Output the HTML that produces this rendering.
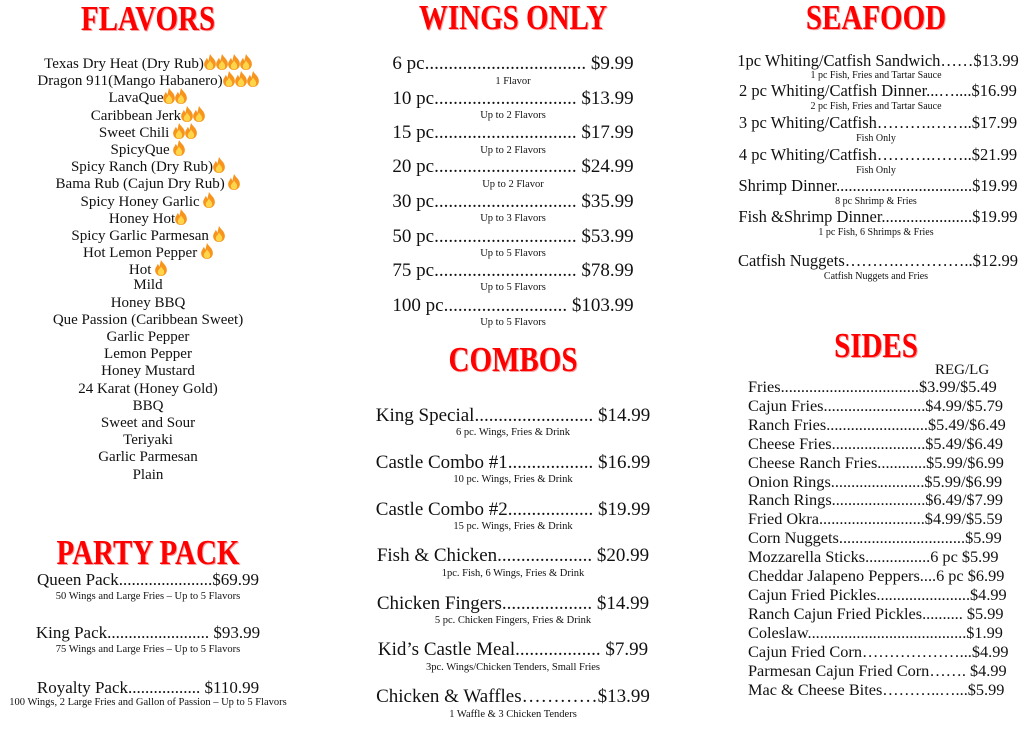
<!DOCTYPE html>
<html><head><meta charset="utf-8"><style>
*{margin:0;padding:0;box-sizing:border-box}
body{width:1024px;height:743px;background:#fff;position:relative;overflow:hidden;font-family:"Liberation Serif",serif;color:#111}
.h{position:absolute;width:400px;text-align:center;color:#f00;font-weight:bold;text-transform:uppercase;font-size:29px;line-height:36px;text-shadow:1px 1px 0 #f8a0a0;transform:scaleY(1.2)}
.c{position:absolute;width:500px;text-align:center;white-space:nowrap}
.m{font-size:19px;line-height:20px}
.s{font-size:10.5px;line-height:12px}
.r{font-size:16.5px;line-height:18px}
.rs{font-size:10px;line-height:11px}
.fl{position:absolute;left:-102px;width:500px;top:54px;text-align:center;font-size:15px;line-height:17.2px}
.fl div{height:17.2px;white-space:nowrap}
.pp{font-size:17px;line-height:18px}
.side{position:absolute;left:748px;top:378px;font-size:16.3px;line-height:18.9px;white-space:nowrap}
svg.f{width:12px;height:16px;vertical-align:-2px}
</style></head><body>
<svg width="0" height="0" style="position:absolute"><defs><symbol id="fl" viewBox="0 0 11 15"><path d="M5.5 0C7 3 11 5 11 9.5 11 12.8 8.5 15 5.5 15S0 12.8 0 9.5C0 7 2 5.5 2.5 3.5 3.5 5 3.8 6 4 6.5 4.5 4 5 2 5.5 0Z" fill="#f7941d"/><path d="M5.5 6C6.5 8 8.5 9 8.5 11.5 8.5 13.5 7 14.5 5.5 14.5S2.5 13.5 2.5 11.5C2.5 9.5 4.5 8.5 5.5 6Z" fill="#ffd54a"/></symbol></defs></svg>

<div class="h" style="left:-52px;top:1px">Flavors</div>
<div class="fl">
<div>Texas Dry Heat (Dry Rub)<svg class="f"><use href="#fl"/></svg><svg class="f"><use href="#fl"/></svg><svg class="f"><use href="#fl"/></svg><svg class="f"><use href="#fl"/></svg></div>
<div>Dragon 911(Mango Habanero)<svg class="f"><use href="#fl"/></svg><svg class="f"><use href="#fl"/></svg><svg class="f"><use href="#fl"/></svg></div>
<div>LavaQue<svg class="f"><use href="#fl"/></svg><svg class="f"><use href="#fl"/></svg></div>
<div>Caribbean Jerk<svg class="f"><use href="#fl"/></svg><svg class="f"><use href="#fl"/></svg></div>
<div>Sweet Chili <svg class="f"><use href="#fl"/></svg><svg class="f"><use href="#fl"/></svg></div>
<div>SpicyQue <svg class="f"><use href="#fl"/></svg></div>
<div>Spicy Ranch (Dry Rub)<svg class="f"><use href="#fl"/></svg></div>
<div>Bama Rub (Cajun Dry Rub) <svg class="f"><use href="#fl"/></svg></div>
<div>Spicy Honey Garlic <svg class="f"><use href="#fl"/></svg></div>
<div>Honey Hot<svg class="f"><use href="#fl"/></svg></div>
<div>Spicy Garlic Parmesan <svg class="f"><use href="#fl"/></svg></div>
<div>Hot Lemon Pepper <svg class="f"><use href="#fl"/></svg></div>
<div>Hot <svg class="f"><use href="#fl"/></svg></div>
<div>Mild</div><div>Honey BBQ</div><div>Que Passion (Caribbean Sweet)</div><div>Garlic Pepper</div><div>Lemon Pepper</div><div>Honey Mustard</div><div>24 Karat (Honey Gold)</div><div>BBQ</div><div>Sweet and Sour</div><div>Teriyaki</div><div>Garlic Parmesan</div><div>Plain</div>
</div>

<div class="h" style="left:-52px;top:535px">Party Pack</div>
<div class="c pp" style="left:-102px;top:571px">Queen Pack......................$69.99</div>
<div class="c s" style="left:-102px;top:591px">50 Wings and Large Fries – Up to 5 Flavors</div>
<div class="c pp" style="left:-102px;top:624px">King Pack........................ $93.99</div>
<div class="c s" style="left:-102px;top:644px">75 Wings and Large Fries – Up to 5 Flavors</div>
<div class="c pp" style="left:-102px;top:679px">Royalty Pack................. $110.99</div>
<div class="c s" style="left:-102px;top:697px">100 Wings, 2 Large Fries and Gallon of Passion – Up to 5 Flavors</div>

<div class="h" style="left:313px;top:0px">Wings Only</div>
<div class="c m" style="left:263px;top:54px">6 pc.................................. $9.99</div>
<div class="c s" style="left:263px;top:76px">1 Flavor</div>
<div class="c m" style="left:263px;top:89px">10 pc.............................. $13.99</div>
<div class="c s" style="left:263px;top:110px">Up to 2 Flavors</div>
<div class="c m" style="left:263px;top:123px">15 pc.............................. $17.99</div>
<div class="c s" style="left:263px;top:145px">Up to 2 Flavors</div>
<div class="c m" style="left:263px;top:157px">20 pc.............................. $24.99</div>
<div class="c s" style="left:263px;top:179px">Up to 2 Flavor</div>
<div class="c m" style="left:263px;top:192px">30 pc.............................. $35.99</div>
<div class="c s" style="left:263px;top:213px">Up to 3 Flavors</div>
<div class="c m" style="left:263px;top:227px">50 pc.............................. $53.99</div>
<div class="c s" style="left:263px;top:248px">Up to 5 Flavors</div>
<div class="c m" style="left:263px;top:261px">75 pc.............................. $78.99</div>
<div class="c s" style="left:263px;top:282px">Up to 5 Flavors</div>
<div class="c m" style="left:263px;top:296px">100 pc.......................... $103.99</div>
<div class="c s" style="left:263px;top:317px">Up to 5 Flavors</div>

<div class="h" style="left:313px;top:342px">Combos</div>
<div class="c m" style="left:263px;top:406px">King Special......................... $14.99</div>
<div class="c s" style="left:263px;top:427px">6 pc. Wings, Fries &amp; Drink</div>
<div class="c m" style="left:263px;top:453px">Castle Combo #1.................. $16.99</div>
<div class="c s" style="left:263px;top:474px">10 pc. Wings, Fries &amp; Drink</div>
<div class="c m" style="left:263px;top:500px">Castle Combo #2.................. $19.99</div>
<div class="c s" style="left:263px;top:521px">15 pc. Wings, Fries &amp; Drink</div>
<div class="c m" style="left:263px;top:546px">Fish &amp; Chicken.................... $20.99</div>
<div class="c s" style="left:263px;top:568px">1pc. Fish, 6 Wings, Fries &amp; Drink</div>
<div class="c m" style="left:263px;top:594px">Chicken Fingers................... $14.99</div>
<div class="c s" style="left:263px;top:615px">5 pc. Chicken Fingers, Fries &amp; Drink</div>
<div class="c m" style="left:263px;top:640px">Kid’s Castle Meal.................. $7.99</div>
<div class="c s" style="left:263px;top:662px">3pc. Wings/Chicken Tenders, Small Fries</div>
<div class="c m" style="left:263px;top:687px">Chicken &amp; Waffles…………$13.99</div>
<div class="c s" style="left:263px;top:709px">1 Waffle &amp; 3 Chicken Tenders</div>

<div class="h" style="left:676px;top:0px">Seafood</div>
<div class="c r" style="left:628px;top:52px">1pc Whiting/Catfish Sandwich……$13.99</div>
<div class="c rs" style="left:626px;top:70px">1 pc Fish, Fries and Tartar Sauce</div>
<div class="c r" style="left:628px;top:82px">2 pc Whiting/Catfish Dinner...…....$16.99</div>
<div class="c rs" style="left:626px;top:101px">2 pc Fish, Fries and Tartar Sauce</div>
<div class="c r" style="left:628px;top:114px">3 pc Whiting/Catfish……….……..$17.99</div>
<div class="c rs" style="left:626px;top:133px">Fish Only</div>
<div class="c r" style="left:628px;top:146px">4 pc Whiting/Catfish……….……..$21.99</div>
<div class="c rs" style="left:626px;top:165px">Fish Only</div>
<div class="c r" style="left:628px;top:177px">Shrimp Dinner.................................$19.99</div>
<div class="c rs" style="left:626px;top:196px">8 pc Shrimp &amp; Fries</div>
<div class="c r" style="left:628px;top:208px">Fish &amp;Shrimp Dinner......................$19.99</div>
<div class="c rs" style="left:626px;top:227px">1 pc Fish, 6 Shrimps &amp; Fries</div>
<div class="c r" style="left:628px;top:252px">Catfish Nuggets……….…………..$12.99</div>
<div class="c rs" style="left:626px;top:271px">Catfish Nuggets and Fries</div>

<div class="h" style="left:676px;top:328px">Sides</div>
<div style="position:absolute;left:935px;top:361px;font-size:15px;line-height:18px">REG/LG</div>
<div class="side">
Fries..................................$3.99/$5.49<br>
Cajun Fries.........................$4.99/$5.79<br>
Ranch Fries.........................$5.49/$6.49<br>
Cheese Fries.......................$5.49/$6.49<br>
Cheese Ranch Fries............$5.99/$6.99<br>
Onion Rings.......................$5.99/$6.99<br>
Ranch Rings.......................$6.49/$7.99<br>
Fried Okra..........................$4.99/$5.59<br>
Corn Nuggets...............................$5.99<br>
Mozzarella Sticks................6 pc $5.99<br>
Cheddar Jalapeno Peppers....6 pc $6.99<br>
Cajun Fried Pickles.......................$4.99<br>
Ranch Cajun Fried Pickles.......... $5.99<br>
Coleslaw.......................................$1.99<br>
Cajun Fried Corn………………...$4.99<br>
Parmesan Cajun Fried Corn……. $4.99<br>
Mac &amp; Cheese Bites………..…...$5.99
</div>
</body></html>
